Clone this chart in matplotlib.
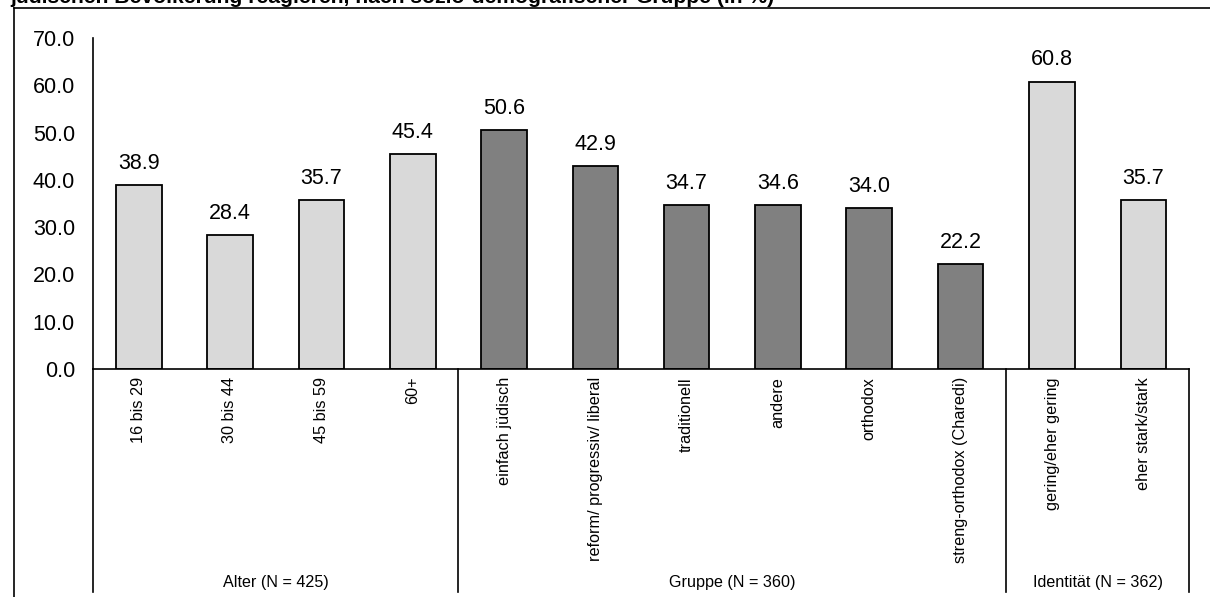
import matplotlib
matplotlib.use("Agg")
from matplotlib import pyplot as plt
from matplotlib.lines import Line2D
import matplotlib.transforms as mtransforms
import numpy as np

plt.rcParams['font.family'] = ['Liberation Sans', 'DejaVu Sans']

categories = ["16 bis 29", "30 bis 44", "45 bis 59", "60+",
              "einfach jüdisch", "reform/ progressiv/ liberal", "traditionell",
              "andere", "orthodox", "streng-orthodox (Charedi)",
              "gering/eher gering", "eher stark/stark"]
values = [38.9, 28.4, 35.7, 45.4, 50.6, 42.9, 34.7, 34.6, 34.0, 22.2, 60.8, 35.7]
groups = ["Alter (N = 425)", "Gruppe (N = 360)", "Identität (N = 362)"]
group_sizes = [4, 6, 2]
group_colors = ["#D9D9D9", "#808080", "#D9D9D9"]

title = "jüdischen Bevölkerung reagieren, nach sozio-demografischer Gruppe (in %)"

W, H = 1210, 597
fig = plt.figure(figsize=(W / 100, H / 100), dpi=100)
ax = fig.add_axes([93 / W, 1 - 369 / H, (1189 - 93) / W, (369 - 38) / H])

colors = []
for c, n in zip(group_colors, group_sizes):
    colors += [c] * n

x = np.arange(len(categories))
bars = ax.bar(x, values, width=0.5, color=colors, edgecolor="black", linewidth=1.3)

for xi, v in zip(x, values):
    ax.annotate("%.1f" % v, (xi, v), xytext=(0, 8), textcoords="offset points",
                ha="center", va="bottom", fontsize=15.5)

ax.set_xlim(-0.5, len(categories) - 0.5)
ax.set_ylim(0, 70)
ax.set_yticks(np.arange(0, 71, 10))
ax.set_yticklabels(["%.1f" % t for t in np.arange(0, 71, 10)], fontsize=15.5)
ax.tick_params(axis="y", length=0, pad=13)
ax.set_xticks([])
for s in ["top", "right"]:
    ax.spines[s].set_visible(False)
ax.spines["left"].set_linewidth(1.2)
ax.spines["bottom"].set_linewidth(1.2)

trans = mtransforms.blended_transform_factory(ax.transData, ax.transAxes)
ylow = -(592 - 369) / (369 - 38)
ycat = -(377 - 369) / (369 - 38)
ygrp = -(582 - 369) / (369 - 38)

# group separators
edges = np.concatenate([[0], np.cumsum(group_sizes)]) - 0.5
for e in edges:
    ax.plot([e, e], [0, ylow], transform=trans, color="black", lw=1.2, clip_on=False)

for xi, lab in zip(x, categories):
    ax.text(xi, ycat, lab, transform=trans, rotation=90, ha="center", va="top", fontsize=11.7)

for g, a, b in zip(groups, edges[:-1], edges[1:]):
    ax.text((a + b) / 2, ygrp, g, transform=trans, ha="center", va="center", fontsize=11.6)

# outer frame (cropped)
fig.add_artist(Line2D([14 / W, 1], [1 - 8 / H, 1 - 8 / H], color="black", lw=1.2))
fig.add_artist(Line2D([14 / W, 14 / W], [0, 1 - 8 / H], color="black", lw=1.2))

fig.text(10 / W, 1 - 3 / H, title, fontsize=15.2, fontweight="bold", ha="left", va="baseline")

fig.savefig("out.png", dpi=100)
